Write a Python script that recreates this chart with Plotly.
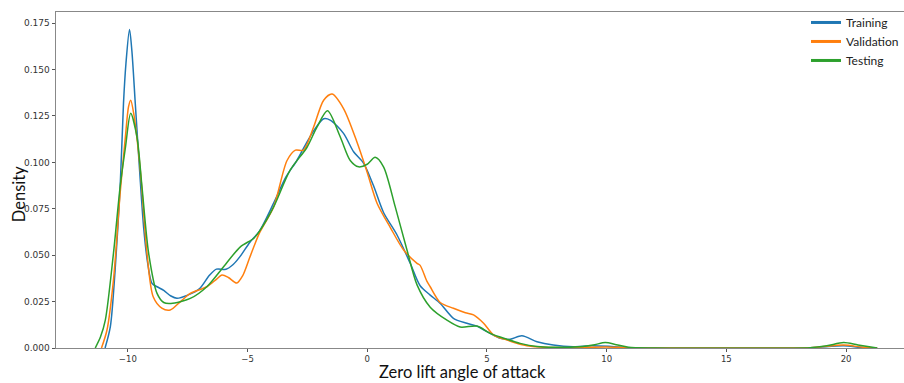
import plotly.graph_objects as go

# ---- data ----
train_x = [-10.95, -10.73, -10.53, -10.32, -10.18, -10.08, -9.93, -9.83, -9.69, -9.51, -9.34, -9.17,
           -8.99, -8.78, -8.5, -8.2, -7.95, -7.5, -7.0, -6.6, -6.3, -5.9, -5.6, -5.3, -4.9, -4.5,
           -3.91, -3.4, -2.94, -2.6, -2.24, -1.82, -1.55, -0.99, -0.57, -0.15, 0.26, 0.68, 1.24,
           1.8, 2.21, 2.63, 3.05, 3.6, 4.16, 4.58, 5.0, 5.56, 5.97, 6.46, 7.09, 7.77, 8.6, 9.4,
           10.2, 11.0, 13.0, 16.0, 18.5, 19.9, 20.6, 21.3]
train_y = [0.0, 0.0115, 0.042, 0.087, 0.132, 0.153, 0.1716, 0.160, 0.132, 0.096, 0.065, 0.0456,
           0.0348, 0.033, 0.031, 0.028, 0.0268, 0.0285, 0.032, 0.039, 0.0425, 0.0424, 0.045, 0.0495,
           0.057, 0.063, 0.078, 0.092, 0.101, 0.109, 0.117, 0.1235, 0.1228, 0.1156, 0.1057, 0.0995,
           0.0875, 0.073, 0.061, 0.0455, 0.0335, 0.0285, 0.024, 0.016, 0.0133, 0.0118, 0.0088,
           0.0052, 0.0047, 0.0066, 0.0034, 0.0016, 0.0007, 0.0012, 0.0008, 0.0002, 0.0, 0.0,
           0.0002, 0.0012, 0.0004, 0.0]

val_x = [-11.1, -10.87, -10.6, -10.32, -10.1, -9.97, -9.88, -9.75, -9.48, -9.2, -8.94, -8.58,
         -8.23, -7.8, -7.39, -6.7, -6.3, -6.07, -5.8, -5.45, -5.2, -4.9, -4.5, -3.91, -3.35, -3.0,
         -2.66, -2.24, -1.82, -1.47, -0.99, -0.43, -0.01, 0.41, 0.96, 1.52, 2.08, 2.21, 2.49, 2.63,
         3.05, 3.6, 4.1, 4.44, 4.86, 5.28, 5.84, 6.53, 7.2, 8.5, 10.0, 11.0, 14.0, 18.5, 19.9,
         20.7, 21.3]
val_y = [0.0, 0.0097, 0.0366, 0.0835, 0.114, 0.130, 0.1335, 0.126, 0.096, 0.051, 0.0276, 0.0215,
         0.0205, 0.025, 0.0294, 0.033, 0.037, 0.0393, 0.038, 0.035, 0.039, 0.049, 0.062, 0.076,
         0.101, 0.1066, 0.1066, 0.119, 0.1335, 0.1368, 0.129, 0.111, 0.095, 0.078, 0.065, 0.0528,
         0.0456, 0.0445, 0.036, 0.033, 0.0245, 0.0214, 0.019, 0.0178, 0.0133, 0.007, 0.0043,
         0.0016, 0.0005, 0.0002, 0.0006, 0.0001, 0.0, 0.0002, 0.0016, 0.0004, 0.0]

test_x = [-11.36, -11.14, -10.94, -10.6, -10.32, -10.1, -9.88, -9.62, -9.41, -9.13, -8.78, -8.5,
          -8.2, -7.39, -6.7, -6.0, -5.3, -4.75, -4.47, -3.91, -3.22, -2.52, -2.1, -1.66, -1.13,
          -0.71, -0.36, 0.0, 0.33, 0.68, 1.17, 1.66, 2.08, 2.63, 3.33, 3.88, 4.58, 5.14, 5.84,
          6.39, 7.1, 7.8, 9.0, 9.5, 9.94, 10.4, 10.9, 12.0, 18.5, 19.2, 19.9, 20.5, 21.3]
test_y = [0.0, 0.006, 0.015, 0.051, 0.087, 0.108, 0.1264, 0.1138, 0.087, 0.051, 0.0294, 0.0245,
          0.024, 0.0267, 0.033, 0.0438, 0.0545, 0.059, 0.0635, 0.076, 0.0958, 0.108, 0.119, 0.1278,
          0.1138, 0.101, 0.0976, 0.099, 0.1027, 0.0976, 0.076, 0.0528, 0.034, 0.022, 0.015, 0.0113,
          0.0118, 0.0079, 0.0047, 0.0025, 0.0008, 0.0004, 0.0008, 0.0018, 0.0029, 0.0018, 0.0004,
          0.0, 0.0002, 0.0012, 0.0029, 0.0016, 0.0]

series_names = ["Training", "Validation", "Testing"]
series_colors = ["#1f77b4", "#ff7f0e", "#2ca02c"]

x_ticks = [-10, -5, 0, 5, 10, 15, 20]
x_tick_labels = ["\u221210", "\u22125", "0", "5", "10", "15", "20"]
y_ticks = [0.0, 0.025, 0.05, 0.075, 0.1, 0.125, 0.15, 0.175]
y_tick_labels = ["0.000", "0.025", "0.050", "0.075", "0.100", "0.125", "0.150", "0.175"]

x_title = "Zero lift angle of attack"
y_title = "Density"

fig = go.Figure()
for name, color, xs, ys in zip(series_names, series_colors,
                               [train_x, val_x, test_x], [train_y, val_y, test_y]):
    fig.add_trace(go.Scatter(x=xs, y=ys, mode="lines", name=name, showlegend=False,
                             line=dict(color=color, width=1.5, shape="spline", smoothing=0.8),
                             hoverinfo="x+y+name"))
# legend-only entries with thicker lines
for name, color in zip(series_names, series_colors):
    fig.add_trace(go.Scatter(x=[None], y=[None], mode="lines", name=name,
                             line=dict(color=color, width=3)))

axis_line = "#888888"
title_font = dict(family="Lato", size=16.5, color="#111111")
fig.update_layout(
    width=904, height=383,
    margin=dict(l=56, r=0, t=12, b=35, autoexpand=False),
    paper_bgcolor="white", plot_bgcolor="white",
    showlegend=True,
    legend=dict(x=1.0, y=1.012, xanchor="right", yanchor="top",
                bgcolor="rgba(0,0,0,0)", borderwidth=0,
                font=dict(family="Lato", size=12, color="#222222"),
                itemwidth=30, tracegroupgap=0),
    xaxis=dict(range=[-13.0, 22.42], tickmode="array", tickvals=x_ticks, ticktext=x_tick_labels,
               showgrid=False, zeroline=False, showline=True, mirror=True,
               linecolor=axis_line, linewidth=1, ticks="outside", ticklen=3,
               tickcolor="#555555", tickfont=dict(family="DejaVu Sans", size=8.5, color="#333333")),
    yaxis=dict(range=[0, 0.181], tickmode="array", tickvals=y_ticks, ticktext=y_tick_labels,
               showgrid=False, zeroline=False, showline=True, mirror=True,
               linecolor=axis_line, linewidth=1, ticks="outside", ticklen=3.5,
               tickcolor="#555555", tickfont=dict(family="DejaVu Sans", size=9, color="#333333")),
    annotations=[
        dict(text=x_title, xref="paper", yref="paper", x=0.4788, y=-0.1038,
             xanchor="center", yanchor="bottom", showarrow=False, borderpad=0, font=title_font),
        dict(text=y_title, xref="paper", yref="paper", x=-0.0436, y=0.458,
             xanchor="center", yanchor="middle", showarrow=False, textangle=-90, font=title_font),
    ],
)

fig.write_html("out.html")
